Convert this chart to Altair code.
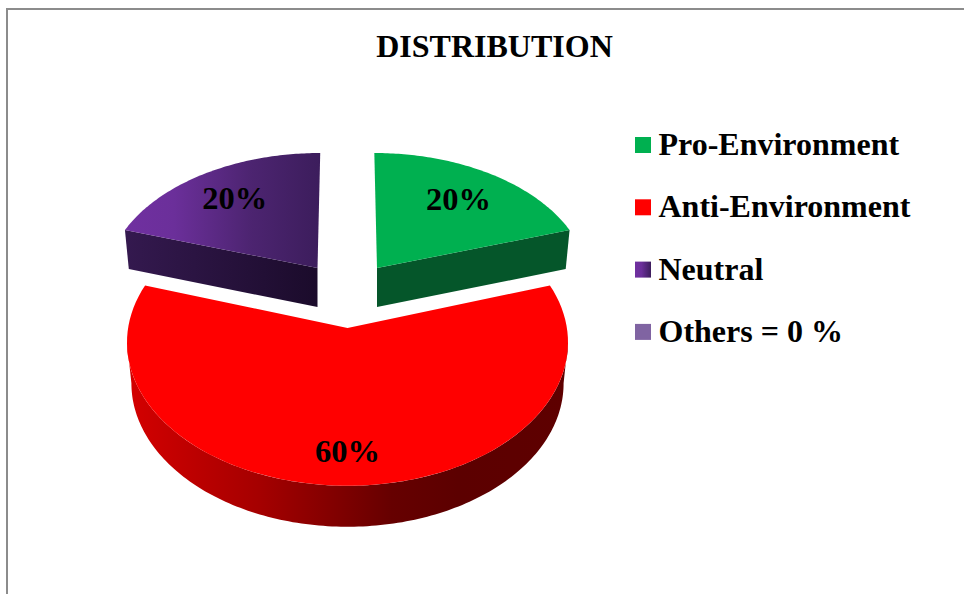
import altair as alt
import numpy as np
import pandas as pd

# Chart content
title_text = "DISTRIBUTION"
categories = ["Pro-Environment", "Anti-Environment", "Neutral", "Others = 0 %"]
shares = [20, 60, 20, 0]
slice_labels = ["20%", "60%", "20%", ""]

# Colours
green_top = "#00b050"
green_side = "#05562a"
red_top = "#ff0000"
purple_light = "#7030a0"
purple_dark = "#3c1d5c"
others_fill = "#8064a2"
serif = "Liberation Serif"

W, H = 964, 594
CX, CY = 347.5, 328.0  # vanishing axis of the tilted pie
TILT = 0.1             # strength of the perspective foreshortening
DEPTH = 39.0           # thickness of the disc in pixels


def disc_point(theta, radius_x, radius_y, dx=0.0, dy=0.0, drop=0.0):
    """Project a point of the disc (clockwise angle from 12 o'clock) to the page."""
    u, v = np.sin(theta), np.cos(theta)
    w = 1 + TILT * v
    return CX + (dx + radius_x * u) / w, CY + (dy - radius_y * v) / w + drop


def apex(dx, dy, drop=0.0):
    return CX + dx, CY + dy + drop


def polygon(xs, ys):
    return pd.DataFrame({"x": xs, "y": ys, "i": np.arange(len(xs))})


x_scale = alt.Scale(domain=[0, W], range=[0, W])
y_scale = alt.Scale(domain=[0, H], range=[0, H])


def filled(df, fill):
    return (
        alt.Chart(df)
        .mark_line(fill=fill, strokeWidth=0, stroke="transparent", interpolate="linear", clip=False)
        .encode(
            x=alt.X("x:Q", scale=x_scale, axis=None),
            y=alt.Y("y:Q", scale=y_scale, axis=None),
            order="i:Q",
        )
    )


def h_gradient(stops):
    return alt.Gradient(
        gradient="linear", x1=0, x2=1, y1=0, y2=0,
        stops=[alt.GradientStop(offset=o, color=c) for o, c in stops],
    )


# Angular extent of each slice, from its share
edges = np.deg2rad(np.cumsum([0] + shares) * 3.6)
spans = list(zip(edges[:-1], edges[1:]))
(g0, g1), (r0, r1), (p0, p1) = spans[:3]

FAR_X, FAR_Y = 209.7, 132.5    # radii of the two slices pulled to the back
NEAR_X, NEAR_Y = 219.4, 142.0  # radii of the large front slice
PULL_Y = -60.0


def wedge(t0, t1, rx, ry, dx=0.0, dy=0.0):
    ts = np.linspace(t0, t1, 90)
    ax, ay = disc_point(ts, rx, ry, dx, dy)
    cx, cy = apex(dx, dy)
    return polygon(np.r_[cx, ax], np.r_[cy, ay])


def cut_face(theta, rx, ry, dx, dy):
    ax, ay = apex(dx, dy)
    bx, by = disc_point(theta, rx, ry, dx, dy)
    cx, cy = disc_point(theta, rx * 0.98, ry, dx, dy, DEPTH)
    ex, ey = apex(dx, dy, DEPTH)
    return polygon([ax, bx, cx, ex], [ay, by, cy, ey])


def rim(t0, t1, rx, ry):
    ts = np.linspace(t0, t1, 160)
    ax, ay = disc_point(ts, rx, ry)
    bx, by = disc_point(ts[::-1], rx * 0.98, ry, drop=41.0)
    return polygon(np.r_[ax, bx], np.r_[ay, by])


# Disc faces and their visible sides
side_stops = [(0, "#d40000"), (0.3, "#a50000"), (0.6, "#660000"), (0.75, "#5c0000"), (1, "#5e0000")]
layers = [
    filled(rim(np.pi / 2 + 0.1, 3 * np.pi / 2 - 0.1, NEAR_X, NEAR_Y), h_gradient(side_stops)),
    filled(wedge(r0, r1, NEAR_X, NEAR_Y), red_top),
    filled(cut_face(g1, FAR_X, FAR_Y, 29.5, PULL_Y), green_side),
    filled(wedge(g0, g1, FAR_X, FAR_Y, 29.5, PULL_Y), green_top),
    filled(cut_face(p0, FAR_X, FAR_Y, -30.0, PULL_Y),
           h_gradient([(0, "#34194f"), (1, "#1b0b2b")])),
    filled(wedge(p0, p1, FAR_X, FAR_Y, -30.0, PULL_Y),
           h_gradient([(0, purple_light), (0.25, "#6b2f9a"), (0.65, "#4c2470"), (1, purple_dark)])),
]

# Percentage labels, placed along each slice's middle direction
label_reach = [0.735, 0.785, 0.745]
label_pull = [(29.5, PULL_Y, FAR_X, FAR_Y), (0.0, 0.0, NEAR_X, NEAR_Y), (-30.0, PULL_Y, FAR_X, FAR_Y)]
rows = []
for (t0, t1), text, reach, (dx, dy, rx, ry) in zip(spans, slice_labels, label_reach, label_pull):
    lx, ly = disc_point((t0 + t1) / 2, rx * reach, ry * reach, dx, dy)
    rows.append({"x": lx, "y": ly, "t": text})
layers.append(
    alt.Chart(pd.DataFrame(rows))
    .mark_text(font=serif, fontWeight="bold", fontSize=32.5, color="black", baseline="middle", align="center")
    .encode(x=alt.X("x:Q", scale=x_scale, axis=None), y=alt.Y("y:Q", scale=y_scale, axis=None), text="t:N")
)

# Legend column
LEGEND_Y, LEGEND_STEP = 145.0, 62.3
swatch_fills = [green_top, red_top, h_gradient([(0, purple_light), (0.4, "#6b2f9a"), (1, purple_dark)]), others_fill]
for i, (name, fill) in enumerate(zip(categories, swatch_fills)):
    row = pd.DataFrame(
        {"x": [635], "x2": [651], "y": [LEGEND_Y + i * LEGEND_STEP - 8], "y2": [LEGEND_Y + i * LEGEND_STEP + 8]}
    )
    layers.append(
        alt.Chart(row)
        .mark_rect(fill=fill)
        .encode(
            x=alt.X("x:Q", scale=x_scale, axis=None), x2="x2:Q",
            y=alt.Y("y:Q", scale=y_scale, axis=None), y2="y2:Q",
        )
    )
legend_df = pd.DataFrame(
    {"t": categories, "y": [LEGEND_Y + i * LEGEND_STEP for i in range(len(categories))], "x": 658.5}
)
layers.append(
    alt.Chart(legend_df)
    .mark_text(font=serif, fontWeight="bold", fontSize=32, color="black", align="left", baseline="middle")
    .encode(x=alt.X("x:Q", scale=x_scale, axis=None), y=alt.Y("y:Q", scale=y_scale, axis=None), text="t:N")
)

# Heading
layers.append(
    alt.Chart(pd.DataFrame({"t": [title_text], "x": [494.5], "y": [47]}))
    .mark_text(font=serif, fontWeight="bold", fontSize=32, color="black", align="center", baseline="middle")
    .encode(x=alt.X("x:Q", scale=x_scale, axis=None), y=alt.Y("y:Q", scale=y_scale, axis=None), text="t:N")
)

# Chart frame: only its top and left edges fall inside the page
layers.append(
    alt.Chart(pd.DataFrame({"a": [0]}))
    .mark_rule(color="#8c8c8c", strokeWidth=2)
    .encode(x=alt.value(7), x2=alt.value(W), y=alt.value(9))
)
layers.append(
    alt.Chart(pd.DataFrame({"a": [0]}))
    .mark_rule(color="#8c8c8c", strokeWidth=2)
    .encode(x=alt.value(7), y=alt.value(8), y2=alt.value(H))
)

chart = (
    alt.layer(*layers)
    .properties(width=W, height=H, padding=0, autosize=alt.AutoSizeParams(type="none"), background="white")
    .configure_view(stroke=None)
)
chart.save("out.html", embed_options={"renderer": "svg", "actions": False})
